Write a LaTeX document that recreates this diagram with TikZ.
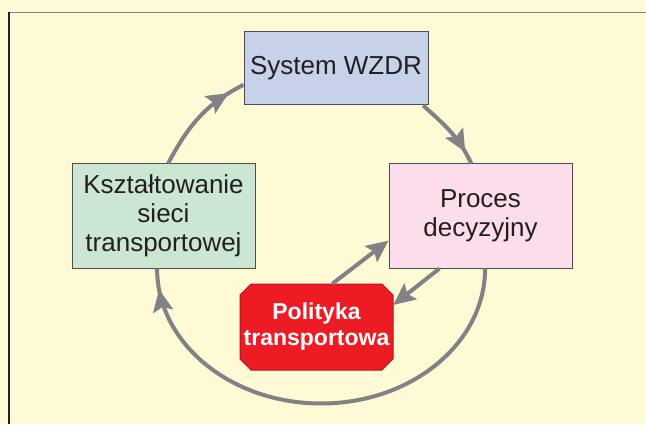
\documentclass[tikz,border=0pt]{standalone}
\usepackage{fontspec}
\setmainfont{Liberation Sans}
\usetikzlibrary{arrows.meta,decorations.markings}

\definecolor{paper}{HTML}{FFFAD6}
\definecolor{flowgray}{HTML}{808285}
\definecolor{edge}{HTML}{4D4D4D}
\definecolor{ink}{HTML}{231F20}
\definecolor{wzdrblue}{HTML}{C6D2EA}
\definecolor{siecgreen}{HTML}{CCE6D4}
\definecolor{procpink}{HTML}{FCDDEC}
\definecolor{polred}{HTML}{ED1C24}

\begin{document}
\begin{tikzpicture}[x=1pt,y=1pt,
  box/.style={draw=edge,line width=1pt,align=center,text=ink,inner sep=0pt,
    font=\fontsize{26}{29}\selectfont},
  flow/.style={draw=flowgray,line width=4pt},
  flowtip/.tip={Stealth[length=22pt,width=20pt,inset=4pt]},
  flowhead/.style={postaction={decorate},decoration={markings,
    mark=at position #1 with {\arrow[flowgray]{flowtip}}}}]
\useasboundingbox (0,0) rectangle (646,424);
\fill[paper] (0,0) rectangle (646,424);
\draw[edge!70,line width=1.3pt] (646,411.5) -- (9,411.5);
\draw[ink,line width=1.3pt] (9,411.5) -- (9,0);

\node[box,fill=wzdrblue,minimum width=184pt,minimum height=73pt] (sys) at (336,355.5) {System WZDR};
\node[box,fill=siecgreen,minimum width=183pt,minimum height=104pt] (ksz) at (163.5,208) {Kształtowanie\\sieci\\transportowej};
\node[box,fill=procpink,minimum width=183pt,minimum height=104pt] (proc) at (480.5,208) {Proces\\decyzyjny};
\filldraw[fill=polred,draw=polred!75!black,line width=1pt]
  (251,54) -- (240,65) -- (240,129) -- (251,140) -- (382,140) -- (393,129) -- (393,65) -- (382,54) -- cycle;
\node[align=center,text=white,inner sep=0pt,minimum width=153pt,minimum height=86pt,
  font=\fontsize{23}{26}\selectfont\bfseries] (pol) at (316.5,97) {Polityka\\transportowa};

\draw[flow,flowhead=-17pt] (ksz.85) to[out=62,in=207] (sys.190);
\draw[flow,flowhead=-13pt] (sys.-23) to[out=-42,in=115] (proc.100);
\draw[flow,flowhead=-21pt] (proc.-85) arc[start angle=0,end angle=-180,x radius=164,y radius=135];
\draw[flow,-flowtip] (pol.70) -- (proc.195);
\draw[flow,-flowtip] (proc.232) -- (pol.16);
\end{tikzpicture}
\end{document}
